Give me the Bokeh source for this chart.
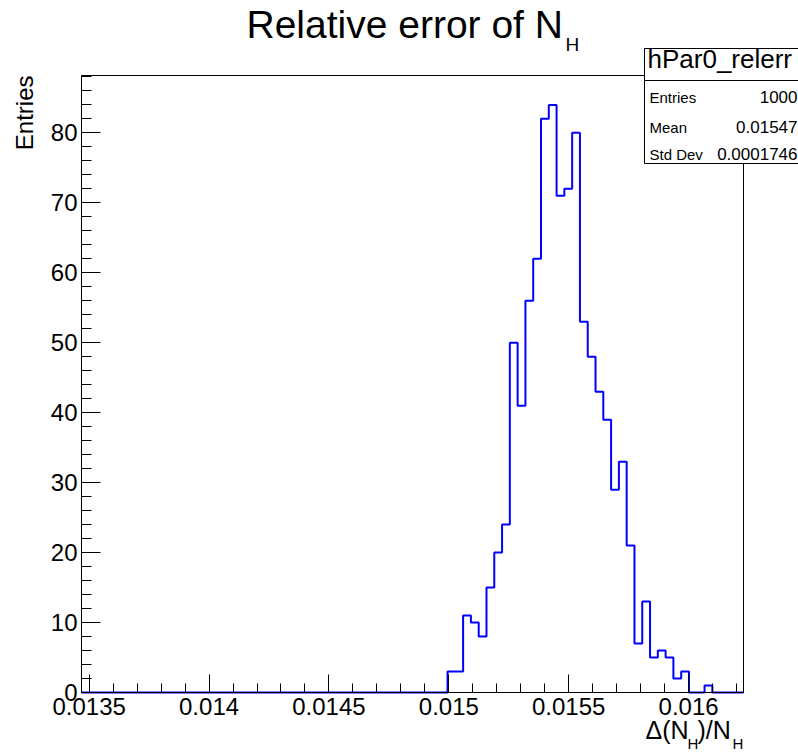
import numpy as np
from bokeh.plotting import figure
from bokeh.models import Range1d, FixedTicker, Label, BoxAnnotation, LinearAxis
from bokeh.embed import file_html
from bokeh.resources import INLINE

# ---- histogram definition (TH1: 85 bins) ----
hist_xmin = 0.013468
hist_xmax = 0.016229
n_bins = 85
counts = [0, 0, 0, 0, 0, 0, 0, 0, 0, 0,
          0, 0, 0, 0, 0, 0, 0, 0, 0, 0,
          0, 0, 0, 0, 0, 0, 0, 0, 0, 0,
          0, 0, 0, 0, 0, 0, 0, 0, 0, 0,
          0, 0, 0, 0, 0, 0, 0,
          3, 3, 11, 10, 8, 15, 20, 24, 50, 41,
          56, 62, 82, 84, 71, 72, 80, 53, 48, 43,
          39, 29, 33, 21, 7, 13, 5, 6, 5, 2,
          3, 0, 0, 1,
          0, 0, 0, 0]

x_tick_values = [0.0135, 0.014, 0.0145, 0.015, 0.0155, 0.016]
x_tick_labels = ["0.0135", "0.014", "0.0145", "0.015", "0.0155", "0.016"]
y_tick_values = [0, 10, 20, 30, 40, 50, 60, 70, 80]

stats_name = "hPar0_relerr"
stats_labels = ["Entries", "Mean", "Std Dev"]
stats_values = ["1000", "0.01547", "0.0001746"]

title_main = "Relative error of N"
title_sub = "H"
y_title = "Entries"

FONT = "Liberation Sans"
LINE_BLUE = "#0000ff"

# ---- pad geometry (pixels) ----
W, H = 798, 754
PAD_L, PAD_R, PAD_T, PAD_B = 81, 55, 75, 62
ymax = 1.05 * max(counts)
fw = W - PAD_L - PAD_R
fh = H - PAD_T - PAD_B
xs_per_px = (hist_xmax - hist_xmin) / fw
ys_per_px = ymax / fh

# the drawing frame spans the whole canvas; the histogram frame sits inside it
p = figure(width=W, height=H, output_backend="svg", toolbar_location=None,
           x_range=Range1d(hist_xmin - PAD_L * xs_per_px, hist_xmax + PAD_R * xs_per_px),
           y_range=Range1d(-PAD_B * ys_per_px, ymax + PAD_T * ys_per_px),
           x_axis_location=None, y_axis_location=None,
           min_border=0, min_border_left=0, min_border_right=0,
           min_border_top=0, min_border_bottom=0, title=None)

p.xgrid.visible = False
p.ygrid.visible = False
p.background_fill_color = "white"
p.border_fill_color = "white"
p.outline_line_color = None

edges = np.linspace(hist_xmin, hist_xmax, n_bins + 1)
p.step(x=list(edges), y=counts + [counts[-1]], mode="after",
       line_color=LINE_BLUE, line_width=2)

# axes fixed on the histogram frame
x_minor = [round(0.0135 + 0.0001 * k, 5) for k in range(0, 28)]
xaxis = LinearAxis(fixed_location=0, bounds=(hist_xmin, hist_xmax),
                   ticker=FixedTicker(ticks=x_tick_values, minor_ticks=x_minor))
xaxis.major_label_overrides = {v: s for v, s in zip(x_tick_values, x_tick_labels)}
yaxis = LinearAxis(fixed_location=hist_xmin, bounds=(0, ymax),
                   ticker=FixedTicker(ticks=y_tick_values, minor_ticks=list(range(0, 90, 2))))

for ax, (maj, mnr, stand) in ((xaxis, (18, 9, 5)), (yaxis, (19, 10, 4))):
    ax.axis_line_color = "black"
    ax.major_tick_line_color = "black"
    ax.minor_tick_line_color = "black"
    ax.major_tick_in = maj
    ax.major_tick_out = 0
    ax.minor_tick_in = mnr
    ax.minor_tick_out = 0
    ax.major_label_text_font = FONT
    ax.major_label_text_font_size = "24px"
    ax.major_label_text_color = "black"
    ax.major_label_standoff = stand
    ax.axis_label = None

p.add_layout(xaxis, "below")
p.add_layout(yaxis, "left")

# histogram frame
p.add_layout(BoxAnnotation(left=hist_xmin, right=hist_xmax, bottom=0, top=ymax,
                           fill_alpha=0, line_color="black", line_width=1, line_alpha=1.0))


def dx(px):
    return hist_xmin + (px - PAD_L) * xs_per_px


def dy(py):
    return ymax - (py - PAD_T) * ys_per_px


K = 0.37  # empirical baseline correction (fraction of font size)


def lab(text, cx, cy, size, align="left", rotated=False):
    if rotated:
        x, y, ang = dx(cx - K * size), dy(cy), np.pi / 2
    else:
        x, y, ang = dx(cx), dy(cy - K * size), 0.0
    p.add_layout(Label(x=x, y=y, text=text, text_font=FONT,
                       text_font_size=f"{size}px", text_align=align,
                       text_baseline="alphabetic", angle=ang, text_color="black"))


# title
lab(title_main, 246, 38, 39)
lab(title_sub, 565, 51, 19)

# y title
lab(y_title, 33, 75, 24, align="right", rotated=True)

# x title  Δ(N_H)/N_H
lab("\u0394(N", 645, 739, 25)
lab("H", 687, 749, 15)
lab(")/N", 697, 739, 25)
lab("H", 732, 749, 15)

# stats box
p.add_layout(BoxAnnotation(left=dx(644), right=dx(860), top=dy(48), bottom=dy(163),
                           fill_color="white", fill_alpha=1.0,
                           line_color="black", line_width=1, line_alpha=1.0))
p.add_layout(BoxAnnotation(left=dx(644), right=dx(860), top=dy(48), bottom=dy(80),
                           fill_color="white", fill_alpha=1.0,
                           line_color="black", line_width=1, line_alpha=1.0))
lab(stats_name, 647, 68, 26)
for i, (sl, sv) in enumerate(zip(stats_labels, stats_values)):
    base = [103, 133, 160][i]
    lab(sl, 649, base, 15)
    lab(sv, 797, base, 17, align="right")

open("out.html", "w").write(file_html(p, INLINE))
